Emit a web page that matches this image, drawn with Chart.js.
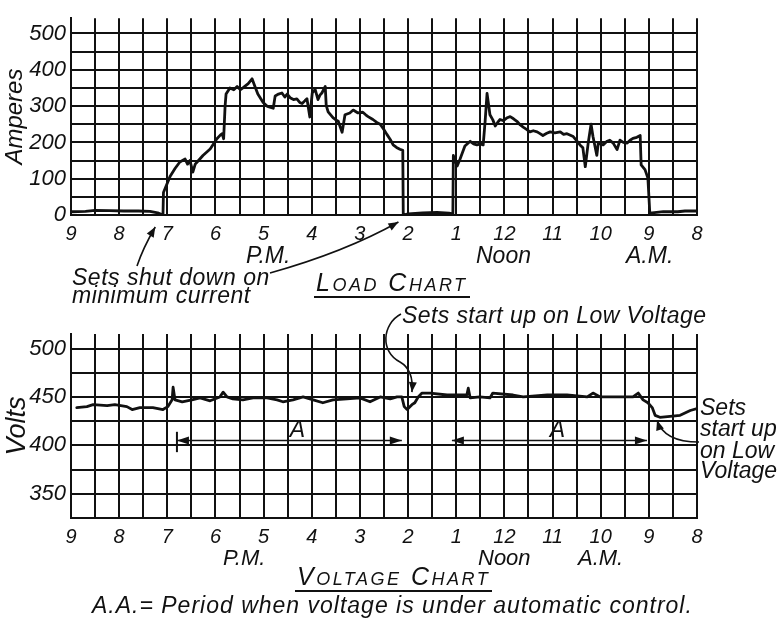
<!DOCTYPE html>
<html>
<head>
<meta charset="utf-8">
<script src="https://cdn.jsdelivr.net/npm/chart.js@4.4.0/dist/chart.umd.min.js"></script>
<style>
  html, body { margin: 0; padding: 0; background: #fff; }
  #wrap { position: relative; width: 784px; height: 618px; overflow: hidden;
          font-family: "Liberation Sans", Arial, sans-serif; font-style: italic; color: #111; }
  canvas { position: absolute; left: 0; }
  #load { top: 0; }
  #volt { top: 300px; }
  .t { position: absolute; white-space: nowrap; line-height: 1; }
  .title { font-variant: small-caps; letter-spacing: 2.5px; border-bottom: 2px solid #111; padding: 0 2px 1px 2px; }
</style>
</head>
<body>
<div id="wrap">
  <canvas id="load" width="784" height="300"></canvas>
  <canvas id="volt" width="784" height="318"></canvas>

  <div class="t" style="left:246px;top:244px;font-size:23px;">P.M.</div>
  <div class="t" style="left:476px;top:244px;font-size:23px;">Noon</div>
  <div class="t" style="left:626px;top:244px;font-size:23px;">A.M.</div>
  <div class="t" style="left:72px;top:266px;font-size:23px;letter-spacing:0.5px;">Sets shut down on</div>
  <div class="t" style="left:72px;top:284px;font-size:23px;letter-spacing:0.5px;">minimum current</div>
  <div class="t title" style="left:314px;top:270px;font-size:25px;">Load Chart</div>

  <div class="t" style="left:402px;top:304px;font-size:23px;letter-spacing:0.4px;">Sets start up on Low Voltage</div>
  <div class="t" style="left:700px;top:396px;font-size:23px;">Sets</div>
  <div class="t" style="left:700px;top:417px;font-size:23px;">start up</div>
  <div class="t" style="left:700px;top:439px;font-size:23px;">on Low</div>
  <div class="t" style="left:700px;top:459px;font-size:23px;">Voltage</div>

  <div class="t" style="left:223px;top:547px;font-size:22px;">P.M.</div>
  <div class="t" style="left:478px;top:547px;font-size:22px;">Noon</div>
  <div class="t" style="left:578px;top:547px;font-size:22px;">A.M.</div>
  <div class="t title" style="left:295px;top:564px;font-size:25px;">Voltage Chart</div>
  <div class="t" style="left:92px;top:594px;font-size:23px;letter-spacing:1px;">A.A.= Period when voltage is under automatic control.</div>
</div>

<script>
// Hour labels along the time axis (evening on the left, morning on the right)
const hourLabels = ['9', '8', '7', '6', '5', '4', '3', '2', '1', '12', '11', '10', '9', '8'];

// Load record: hours measured from 9 P.M. towards 8 A.M., amperes
const loadHours = [0.00, 0.30, 0.50, 0.80, 1.10, 1.40, 1.64, 1.80, 1.91, 1.92, 2.06, 2.16, 2.26, 2.37, 2.42,
  2.47, 2.53, 2.58, 2.62, 2.74, 2.89, 3.03, 3.10, 3.14, 3.17, 3.20, 3.22, 3.30, 3.38, 3.45, 3.52, 3.57,
  3.68, 3.76, 3.82, 3.88, 3.99, 4.07, 4.13, 4.20, 4.24, 4.31, 4.38, 4.44, 4.49, 4.55, 4.62, 4.69, 4.75,
  4.80, 4.86, 4.90, 4.96, 5.01, 5.07, 5.13, 5.17, 5.21, 5.28, 5.30, 5.34, 5.44, 5.50, 5.55, 5.63, 5.69,
  5.79, 5.86, 5.96, 6.06, 6.12, 6.17, 6.27, 6.35, 6.42, 6.50, 6.56, 6.63, 6.69, 6.76, 6.83, 6.89, 6.90,
  7.00, 7.30, 7.60, 7.85, 7.93, 7.94, 8.02, 8.08, 8.18, 8.29, 8.36, 8.43, 8.50, 8.56, 8.60, 8.64, 8.70,
  8.76, 8.81, 8.86, 8.91, 8.98, 9.06, 9.12, 9.19, 9.26, 9.33, 9.39, 9.46, 9.53, 9.60, 9.68, 9.74, 9.80,
  9.88, 9.95, 10.05, 10.16, 10.23, 10.30, 10.43, 10.50, 10.57, 10.63, 10.68, 10.74, 10.80, 10.84, 10.92,
  10.95, 11.05, 11.12, 11.19, 11.26, 11.34, 11.40, 11.47, 11.55, 11.61, 11.67, 11.75, 11.82, 11.84,
  11.92, 11.98, 12.02, 12.30, 12.60, 12.75, 13.00];
const loadAmps = [9, 10, 13, 12, 11, 11, 10, 6, 0, 62, 107, 128, 146, 154, 140,
  150, 118, 140, 146, 164, 182, 210, 220, 224, 210, 300, 333, 350, 345, 354, 345, 350,
  362, 375, 354, 333, 310, 300, 297, 294, 328, 333, 336, 325, 333, 323, 318, 320, 310,
  307, 315, 320, 270, 336, 346, 318, 330, 336, 354, 302, 284, 268, 262, 258, 228, 276,
  281, 289, 281, 283, 276, 271, 263, 255, 250, 235, 222, 208, 193, 186, 181, 178, 0,
  3, 6, 7, 5, 3, 164, 135, 154, 190, 203, 196, 193, 196, 193, 258, 335, 276,
  262, 245, 255, 263, 260, 268, 271, 265, 258, 248, 242, 236, 229, 232, 229, 224, 219,
  225, 229, 226, 229, 222, 224, 216, 205, 193, 185, 133, 198, 250, 216, 164,
  198, 193, 202, 206, 198, 180, 206, 200, 198, 206, 211, 214, 219, 138,
  125, 102, 5, 9, 9, 11, 11];

// Voltage record: same time base, volts
const voltHours = [0.12, 0.33, 0.46, 0.75, 0.91, 1.16, 1.27, 1.43, 1.70, 1.91, 2.01, 2.10, 2.12, 2.16,
  2.31, 2.51, 2.68, 2.89, 3.09, 3.16, 3.24, 3.36, 3.57, 3.78, 4.07, 4.28, 4.40, 4.61, 4.82, 5.03, 5.23,
  5.44, 5.73, 6.00, 6.21, 6.42, 6.63, 6.77, 6.87, 6.92, 6.98, 7.08, 7.14, 7.21, 7.29, 7.46, 7.81, 8.22,
  8.25, 8.29, 8.49, 8.70, 8.76, 9.18, 9.39, 9.89, 10.30, 10.72, 10.84, 10.99, 11.26, 11.67, 11.78, 11.88,
  11.98, 12.07, 12.13, 12.23, 12.65, 12.86, 13.00];
const voltValues = [439, 440, 442, 441, 442, 440, 437, 439, 439, 437, 440, 447, 460, 447,
  445, 447, 449, 446, 450, 455, 450, 448, 447, 449, 449, 447, 445, 447, 450, 447, 444,
  447, 448, 449, 445, 450, 448, 450, 450, 440, 437, 442, 444, 450, 454, 454, 452, 452,
  459, 449, 450, 449, 454, 452, 450, 452, 452, 450, 454, 450, 450, 450, 454, 447,
  444, 439, 431, 429, 431, 436, 438];

// Periods of automatic voltage control, in hours from 9 P.M.
const autoStart = [2.2, 7.91];
const autoEnd = [6.87, 11.96];

const INK = '#111';
const FONT = "'Liberation Sans', Arial, sans-serif";

function pts(xs, ys) { return xs.map((x, i) => ({ x: x, y: ys[i] })); }

function arrowHead(ctx, x, y, ang, len, half) {
  len = len || 10; half = half || 4;
  const c = Math.cos(ang), s = Math.sin(ang);
  ctx.beginPath();
  ctx.moveTo(x, y);
  ctx.lineTo(x - len * c + half * s, y - len * s - half * c);
  ctx.lineTo(x - len * c - half * s, y - len * s + half * c);
  ctx.closePath();
  ctx.fill();
}

function xScaleOpts() {
  return {
    type: 'linear', min: 0, max: 13,
    afterFit: s => { s.height = 30; },
    grid: { color: INK, lineWidth: 2, drawTicks: false },
    border: { color: INK, width: 2 },
    ticks: {
      stepSize: 0.5, maxTicksLimit: 40, autoSkip: false, maxRotation: 0, padding: 7, color: INK,
      font: { family: FONT, style: 'italic', size: 20 },
      callback: v => Number.isInteger(v) ? hourLabels[v] : ''
    }
  };
}

function yScaleOpts(min, max, step, labelStep, top, title, titleSize) {
  return {
    min: min, max: max,
    afterFit: s => { s.width = 71; },
    afterBuildTicks: s => { s.ticks = s.ticks.filter(t => t.value <= top); },
    grid: { color: INK, lineWidth: 2, drawTicks: false },
    border: { color: INK, width: 2 },
    ticks: {
      stepSize: step, maxTicksLimit: 40, autoSkip: false, includeBounds: false, padding: 5, color: INK,
      font: { family: FONT, style: 'italic', size: 22 },
      callback: v => (v % labelStep === 0 && v > min) || v === 0 ? String(v) : ''
    },
    title: { display: true, text: title, color: INK, padding: { top: 1, bottom: 0 },
      font: { family: FONT, style: 'italic', size: titleSize } }
  };
}

const loadNotes = {
  id: 'loadNotes',
  afterDraw(chart) {
    const ctx = chart.ctx, x = chart.scales.x, area = chart.chartArea;
    ctx.save();
    ctx.strokeStyle = INK; ctx.fillStyle = INK; ctx.lineWidth = 1.6;
    // arrow to the evening shut-down
    const t1x = x.getPixelForValue(1.75), t1y = area.bottom + 12;
    ctx.beginPath(); ctx.moveTo(137, 266); ctx.quadraticCurveTo(143, 248, t1x, t1y); ctx.stroke();
    arrowHead(ctx, t1x, t1y, Math.atan2(t1y - 248, t1x - 143));
    // arrow to the afternoon shut-down
    const t2x = x.getPixelForValue(6.8), t2y = area.bottom + 7;
    ctx.beginPath(); ctx.moveTo(270, 273); ctx.quadraticCurveTo(345, 252, t2x, t2y); ctx.stroke();
    arrowHead(ctx, t2x, t2y, Math.atan2(t2y - 252, t2x - 345));
    ctx.restore();
  }
};

const voltNotes = {
  id: 'voltNotes',
  afterDraw(chart) {
    const ctx = chart.ctx, x = chart.scales.x, y = chart.scales.y;
    ctx.save();
    ctx.strokeStyle = INK; ctx.fillStyle = INK; ctx.lineWidth = 1.6;
    // automatic-control spans
    const ay = y.getPixelForValue(405);
    for (let i = 0; i < autoStart.length; i++) {
      const xa = x.getPixelForValue(autoStart[i]), xb = x.getPixelForValue(autoEnd[i]);
      ctx.beginPath(); ctx.moveTo(xa, ay); ctx.lineTo(xb, ay); ctx.stroke();
      arrowHead(ctx, xa, ay, Math.PI, 12, 4);
      arrowHead(ctx, xb, ay, 0, 12, 4);
      ctx.font = "italic 23px " + FONT;
      ctx.textAlign = 'center'; ctx.textBaseline = 'bottom';
      ctx.fillText('A', (xa + xb) / 2 + 8, ay + 2);
    }
    const tx = x.getPixelForValue(autoStart[0]);
    ctx.lineWidth = 2;
    ctx.beginPath(); ctx.moveTo(tx, y.getPixelForValue(414)); ctx.lineTo(tx, y.getPixelForValue(393)); ctx.stroke();
    ctx.lineWidth = 1.6;
    // start-up at 2 o'clock
    const px = x.getPixelForValue(7.08), py = y.getPixelForValue(455);
    ctx.beginPath(); ctx.moveTo(401, 14);
    ctx.bezierCurveTo(382, 24, 380, 52, 400, 62);
    ctx.quadraticCurveTo(414, 70, px, py); ctx.stroke();
    arrowHead(ctx, px, py, Math.atan2(py - 70, px - 414));
    // start-up at 9 o'clock
    const qx = x.getPixelForValue(12.17), qy = y.getPixelForValue(426);
    ctx.beginPath(); ctx.moveTo(699, 142); ctx.quadraticCurveTo(664, 142, qx, qy); ctx.stroke();
    arrowHead(ctx, qx, qy, Math.atan2(qy - 142, qx - 664));
    ctx.restore();
  }
};

function lineDataset(data) {
  return { data: data, borderColor: INK, borderWidth: 2.8, pointRadius: 0, tension: 0,
           borderJoinStyle: 'round', borderCapStyle: 'round', fill: false };
}

const common = {
  responsive: false, animation: false, devicePixelRatio: 1,
  plugins: { legend: { display: false }, tooltip: { enabled: false } }
};

new Chart(document.getElementById('load'), {
  type: 'line',
  data: { datasets: [lineDataset(pts(loadHours, loadAmps))] },
  options: Object.assign({}, common, {
    layout: { padding: { top: 7, right: 87, bottom: 55, left: 0 } },
    scales: { x: xScaleOpts(), y: yScaleOpts(0, 542, 50, 100, 500, 'Amperes', 24) }
  }),
  plugins: [loadNotes]
});

new Chart(document.getElementById('volt'), {
  type: 'line',
  data: { datasets: [lineDataset(pts(voltHours, voltValues))] },
  options: Object.assign({}, common, {
    layout: { padding: { top: 34, right: 87, bottom: 70, left: 0 } },
    scales: { x: xScaleOpts(), y: yScaleOpts(325, 515, 25, 50, 500, 'Volts', 27) }
  }),
  plugins: [voltNotes]
});
</script>
</body>
</html>
